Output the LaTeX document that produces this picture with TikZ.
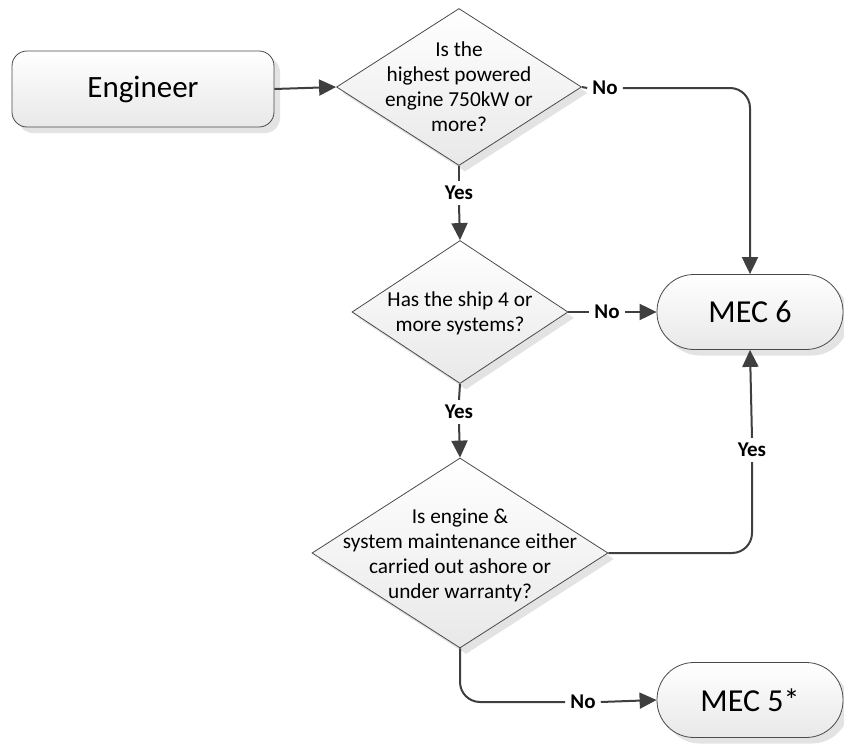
\documentclass[tikz,border=0pt]{standalone}
\usepackage{fontspec}
\setmainfont{Carlito}
\usetikzlibrary{shapes.geometric,arrows.meta,shadows}
\definecolor{lnc}{HTML}{3F3F3F}
\definecolor{edgec}{HTML}{4A4A4A}
\tikzset{
  shp/.style={draw=edgec, line width=0.8pt, top color=white, bottom color=black!9,
    drop shadow={shadow xshift=6pt, shadow yshift=-6pt, fill=black!11, opacity=1}},
  termbox/.style={shp, rectangle, rounded corners=#1, inner sep=0pt},
  dia/.style={shp, diamond, inner sep=0pt},
  qtext/.style={align=center, font=\fontsize{21.3}{25}\selectfont, inner sep=0pt},
  lbl/.style={font=\fontsize{21}{22}\selectfont\bfseries, inner sep=5pt, text=black},
  conn/.style={draw=lnc, line width=2pt},
  arr/.style={conn, -{Triangle[length=17pt,width=16pt]}},
}
\begin{document}
\begin{tikzpicture}[x=1pt,y=-1pt]
\useasboundingbox (0,0) rectangle (844,744);
% terminals
\node[termbox=15, minimum width=262, minimum height=76, font=\fontsize{31}{33}\selectfont] (eng) at (143,89) {Engineer};
\node[termbox=37, minimum width=186, minimum height=75, font=\fontsize{32}{34}\selectfont] (mec6) at (750,312) {MEC 6};
\node[termbox=37, minimum width=186, minimum height=75, font=\fontsize{32}{34}\selectfont] (mec5) at (750,700) {MEC 5*};
% decisions
\node[dia, minimum width=245, minimum height=157] (d1) at (459,87) {};
\node[qtext] (d1t) at (459,87) {Is the\\highest powered\\engine 750kW or\\more?};
\node[dia, minimum width=216, minimum height=143] (d2) at (460,312) {};
\node[qtext] (d2t) at (460,313) {Has the ship 4 or\\more systems?};
\node[dia, minimum width=296, minimum height=190] (d3) at (460,553) {};
\node[qtext] (d3t) at (460,555) {Is engine \&\\system maintenance either\\carried out ashore or\\under warranty?};
% labels
\node[lbl] (no1) at (605,88) {No};
\node[lbl] (yes1) at (459,193) {Yes};
\node[lbl] (no2) at (607,312) {No};
\node[lbl] (yes2) at (459,412) {Yes};
\node[lbl] (yes3) at (752,450) {Yes};
\node[lbl] (no3) at (583,702) {No};
% connectors
\draw[arr] (eng.east) -- (d1.west);
\draw[conn] (d1.east) -- (no1.west);
\draw[arr, rounded corners=20pt] (no1.east) -| (mec6.north);
\draw[conn] (d1.south) -- (yes1.north);
\draw[arr] (yes1.south) -- (d2.north);
\draw[conn] (d2.east) -- (no2.west);
\draw[arr] (no2.east) -- (mec6.west);
\draw[conn] (d2.south) -- (yes2.north);
\draw[arr] (yes2.south) -- (d3.north);
\draw[conn, rounded corners=20pt] (d3.east) -| (yes3.south);
\draw[arr] (yes3.north) -- (mec6.south);
\draw[conn, rounded corners=20pt] (d3.south) |- (no3.west);
\draw[arr] (no3.east) -- (mec5.west);
\end{tikzpicture}
\end{document}
